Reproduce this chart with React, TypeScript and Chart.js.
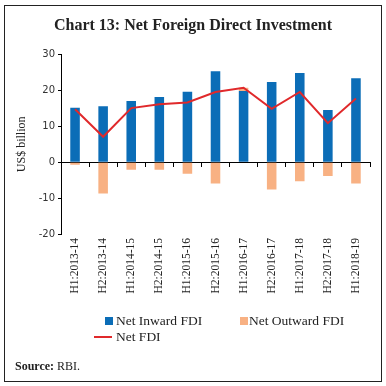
import React, { useEffect, useRef } from "react";
import { Chart, registerables } from "chart.js";

Chart.register(...registerables);

const categories = [
  "H1:2013-14", "H2:2013-14", "H1:2014-15", "H2:2014-15", "H1:2015-16", "H2:2015-16",
  "H1:2016-17", "H2:2016-17", "H1:2017-18", "H2:2017-18", "H1:2018-19",
];
const netInward = [15.2, 15.6, 17.1, 18.2, 19.7, 25.4, 19.9, 22.4, 24.9, 14.6, 23.4];
const netOutward = [-0.7, -8.7, -2.1, -2.1, -3.2, -5.9, 0.9, -7.6, -5.3, -3.8, -5.9];
const netFDI = [14.8, 7.1, 15.1, 16.2, 16.7, 19.6, 20.8, 14.9, 19.6, 10.9, 17.8];
const yTicks = [-20, -10, 0, 10, 20, 30];

const BLUE = "#0b6db7";
const ORANGE = "#f8b183";
const RED = "#e0292b";

export default function App() {
  const ref = useRef<HTMLCanvasElement | null>(null);

  useEffect(() => {
    document.body.style.margin = "0";
    if (!ref.current) return;
    const chart = new Chart(ref.current, {
      type: "bar",
      data: {
        labels: categories,
        datasets: [
          {
            type: "line",
            label: "Net FDI",
            data: netFDI,
            borderColor: RED,
            backgroundColor: RED,
            borderWidth: 2,
            pointRadius: 0,
            tension: 0,
            stack: "line",
            xAxisID: "x",
          } as any,
          {
            type: "bar",
            label: "Net Inward FDI",
            data: netInward,
            backgroundColor: BLUE,
            barPercentage: 0.34,
            categoryPercentage: 1,
            stack: "bars",
          },
          {
            type: "bar",
            label: "Net Outward FDI",
            data: netOutward,
            backgroundColor: ORANGE,
            barPercentage: 0.34,
            categoryPercentage: 1,
            stack: "bars",
          },
        ],
      },
      options: {
        animation: false,
        responsive: false,
        maintainAspectRatio: false,
        layout: { padding: { left: 15, top: 54.7, right: 16, bottom: 0 } },
        plugins: {
          legend: { display: false },
          tooltip: { enabled: false },
          title: { display: false },
        },
        scales: {
          x: {
            type: "category",
            stacked: true,
            position: "bottom",
            grid: { display: false, drawTicks: false },
            border: { display: false },
            ticks: {
              minRotation: 90,
              maxRotation: 90,
              autoSkip: false,
              padding: 4,
              color: "#222",
              font: { family: "Liberation Serif", size: 11.5 },
            },
            afterFit: (s: any) => {
              s.height = 386 - 234;
            },
          },
          x2: {
            type: "category",
            labels: categories,
            position: { y: 0 } as any,
            offset: true,
            z: 1,
            grid: { offset: true, drawOnChartArea: false, tickLength: 4, color: "#000", lineWidth: 1 },
            border: { display: true, color: "#000", width: 1 },
            ticks: { display: false },
            afterFit: (s: any) => {
              s.height = 0;
            },
          } as any,
          y: {
            stacked: true,
            min: -20,
            max: 30,
            afterBuildTicks: (s: any) => {
              s.ticks = yTicks.map((v) => ({ value: v }));
            },
            grid: { drawOnChartArea: false, tickLength: 3, color: "#000" },
            border: { display: true, color: "#000", width: 1 },
            ticks: {
              padding: 3,
              color: "#333",
              font: { family: "DejaVu Sans", size: 10 },
            },
            title: {
              display: true,
              text: "US$ billion",
              padding: 0,
              color: "#222",
              font: { family: "Liberation Serif", size: 12 },
            },
            afterFit: (s: any) => {
              s.width = 61 - 15;
            },
          },
        },
      },
    });
    return () => chart.destroy();
  }, []);

  const serif = "'Liberation Serif', serif";
  return (
    <div style={{ position: "fixed", left: 0, top: 0, width: 386, height: 386, background: "#fff", fontFamily: serif, color: "#222" }}>
      <canvas ref={ref} width={386} height={386} style={{ position: "absolute", left: 0, top: 0, width: 386, height: 386 }} />
      <div style={{ position: "absolute", left: 4, top: 5, width: 376, height: 375, border: "1px solid #222", pointerEvents: "none" }} />
      <div style={{ position: "absolute", left: 0, top: 15, width: 386, textAlign: "center", fontWeight: "bold", fontSize: 16, lineHeight: "20px" }}>
        Chart 13: Net Foreign Direct Investment
      </div>
      <div style={{ position: "absolute", left: 105, top: 317, width: 8, height: 8, background: BLUE }} />
      <div style={{ position: "absolute", left: 116, top: 313, fontSize: 13.5, lineHeight: "16px" }}>Net Inward FDI</div>
      <div style={{ position: "absolute", left: 240, top: 317, width: 8, height: 8, background: ORANGE }} />
      <div style={{ position: "absolute", left: 249, top: 313, fontSize: 13.5, lineHeight: "16px" }}>Net Outward FDI</div>
      <div style={{ position: "absolute", left: 94, top: 336, width: 18, height: 2, background: RED }} />
      <div style={{ position: "absolute", left: 116, top: 329, fontSize: 13.5, lineHeight: "16px" }}>Net FDI</div>
      <div style={{ position: "absolute", left: 15, top: 358, fontSize: 12, lineHeight: "16px" }}>
        <b>Source:</b> RBI.
      </div>
    </div>
  );
}
